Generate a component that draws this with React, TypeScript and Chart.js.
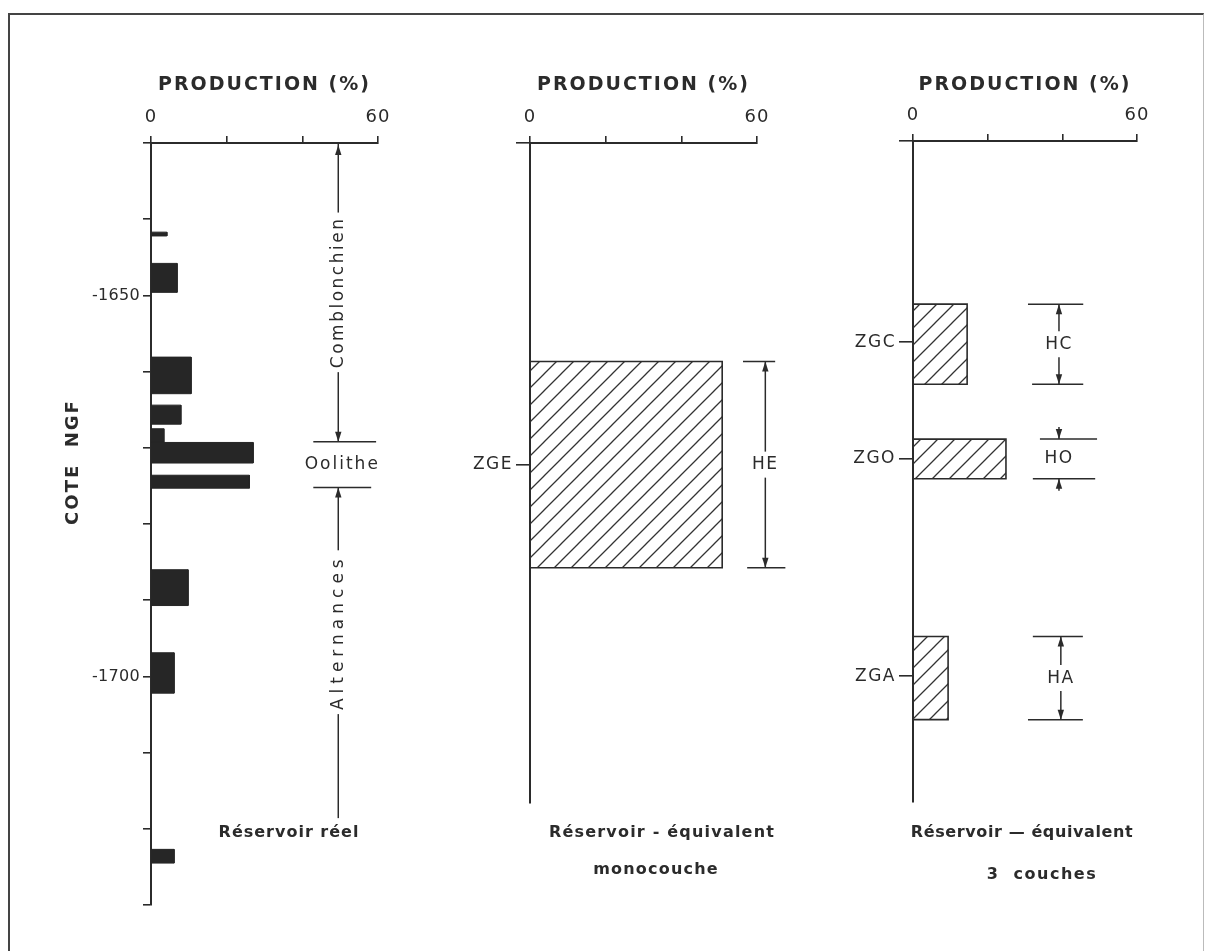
import React, { useEffect, useRef } from 'react';
import { Chart, registerables } from 'chart.js';

Chart.register(...registerables);

// ---------------- data ----------------
const prodMin = 0;
const prodMax = 60;
const prodStep = 20;
const prodLabels = [0, 60];

const depthTop = -1630;
const depthBottom = -1730;
const depthStep = 10;
const depthLabels = [-1650, -1700];
const equivalentDepthBottom = -1716.7;

// Panel 1 : réservoir réel (tops / bottoms in m NGF, production in %)
const realTop = [-1641.7, -1645.8, -1658.1, -1664.4, -1667.5, -1669.3, -1673.6, -1686.0, -1696.9, -1722.7];
const realBottom = [-1642.2, -1649.6, -1662.9, -1666.9, -1669.3, -1672.0, -1675.3, -1690.7, -1702.2, -1724.5];
const realProd = [4.2, 6.9, 10.6, 7.9, 3.4, 27.0, 26.0, 9.8, 6.1, 6.1];

const formationNames = ['Comblonchien', 'Oolithe', 'Alternances'];
const formationTop = [-1630, -1669.2, -1675.2];
const formationBottom = [-1669.2, -1675.2, -1718.6];
const formationLabelDepth = [-1649.6, -1672.2, -1694.2];

// Panel 2 : réservoir équivalent monocouche
const monoNames = ['ZGE'];
const monoCentre = [-1672.3];
const monoTop = [-1658.7];
const monoBottom = [-1685.8];
const monoProd = [50.8];
const monoThickness = ['HE'];

// Panel 3 : réservoir équivalent 3 couches
const layerNames = ['ZGC', 'ZGO', 'ZGA'];
const layerCentre = [-1656.4, -1671.7, -1700.2];
const layerTop = [-1651.4, -1669.1, -1695.0];
const layerBottom = [-1661.9, -1674.3, -1705.9];
const layerProd = [14.5, 24.9, 9.4];
const layerThickness = ['HC', 'HO', 'HA'];

// ---------------- layout / style ----------------
const W = 1210;
const H = 951;
const FONT = "'DejaVu Sans', sans-serif";
const INK = '#2b2b2b';
const Y_AXIS_W = 70;

const geom1 = { l: 151, t: 143, r: 378, b: 905, xh: 72 };
const geom2 = { l: 530, t: 143, r: 757, b: 803, xh: 72 };
const geom3 = { l: 913, t: 141, r: 1137, b: 802, xh: 70 };

function padFor(g: any) {
  return { left: g.l - Y_AXIS_W, top: g.t - g.xh, right: W - g.r, bottom: H - g.b };
}

function makeHatch(): any {
  const s = 17;
  const c = document.createElement('canvas');
  c.width = s;
  c.height = s;
  const g = c.getContext('2d')!;
  g.strokeStyle = '#333';
  g.lineWidth = 1.3;
  g.beginPath();
  g.moveTo(0, s);
  g.lineTo(s, 0);
  g.moveTo(-2, 2);
  g.lineTo(2, -2);
  g.moveTo(s - 2, s + 2);
  g.lineTo(s + 2, s - 2);
  g.stroke();
  return g.createPattern(c, 'repeat');
}

function rect(top: number, bottom: number, value: number) {
  return [
    { x: 0, y: top },
    { x: value, y: top },
    { x: value, y: bottom },
    { x: 0, y: bottom },
    { x: 0, y: top },
  ];
}

function setFont(ctx: any, size: number, weight: string, spacing: number) {
  ctx.font = `${weight} ${size}px ${FONT}`;
  ctx.letterSpacing = spacing + 'px';
}

function drawText(ctx: any, s: string, x: number, y: number, size: number, weight = 'normal', spacing = 1.5, rot = 0) {
  ctx.save();
  setFont(ctx, size, weight, spacing);
  ctx.textAlign = 'center';
  ctx.textBaseline = 'middle';
  ctx.fillStyle = INK;
  ctx.translate(x, y);
  if (rot) ctx.rotate(rot);
  ctx.fillText(s, 0, 0);
  ctx.restore();
}

function measure(ctx: any, s: string, size: number, weight = 'normal', spacing = 1.5) {
  ctx.save();
  setFont(ctx, size, weight, spacing);
  const w = ctx.measureText(s).width;
  ctx.restore();
  return w;
}

function line(ctx: any, x1: number, y1: number, x2: number, y2: number, lw = 1.5) {
  ctx.save();
  ctx.strokeStyle = INK;
  ctx.lineWidth = lw;
  ctx.beginPath();
  ctx.moveTo(x1, y1);
  ctx.lineTo(x2, y2);
  ctx.stroke();
  ctx.restore();
}

// dir = -1 : points up, dir = 1 : points down (tip at x,y)
function arrow(ctx: any, x: number, y: number, dir: number) {
  const len = 10;
  const hw = 3.2;
  ctx.save();
  ctx.fillStyle = INK;
  ctx.beginPath();
  ctx.moveTo(x, y);
  ctx.lineTo(x - hw, y - dir * len);
  ctx.lineTo(x + hw, y - dir * len);
  ctx.closePath();
  ctx.fill();
  ctx.restore();
}

function drawDimension(ctx: any, xs: any, ys: any, d: any) {
  const x = xs.getPixelForValue(d.x);
  const yT = ys.getPixelForValue(d.top);
  const yB = ys.getPixelForValue(d.bottom);
  line(ctx, xs.getPixelForValue(d.topSpan[0]), yT, xs.getPixelForValue(d.topSpan[1]), yT);
  line(ctx, xs.getPixelForValue(d.botSpan[0]), yB, xs.getPixelForValue(d.botSpan[1]), yB);
  const yc = (yT + yB) / 2;
  drawText(ctx, d.label, x, yc, 17, 'normal', 1.5);
  if (!d.outside) {
    line(ctx, x, yT, x, yc - 13);
    line(ctx, x, yc + 13, x, yB);
    arrow(ctx, x, yT, -1);
    arrow(ctx, x, yB, 1);
  } else {
    line(ctx, x, yT - 12, x, yT);
    arrow(ctx, x, yT, 1);
    line(ctx, x, yB, x, yB + 12);
    arrow(ctx, x, yB, -1);
  }
}

// give the library's own tick labels / axis title a letter spacing
function patchSpacing(s: any, labelPx: number, titlePx: number) {
  if (s.__spaced) return;
  s.__spaced = true;
  const dl = s.drawLabels.bind(s);
  const dt = s.drawTitle.bind(s);
  s.drawLabels = (area: any) => {
    const c = s.ctx;
    c.save();
    c.letterSpacing = labelPx + 'px';
    dl(area);
    c.restore();
  };
  s.drawTitle = () => {
    const c = s.ctx;
    c.save();
    c.letterSpacing = titlePx + 'px';
    dt();
    c.restore();
  };
}

function xScale(h: number) {
  return {
    type: 'linear',
    position: 'top',
    min: prodMin,
    max: prodMax,
    ticks: {
      stepSize: prodStep,
      autoSkip: false,
      maxRotation: 0,
      padding: 8,
      color: INK,
      font: { family: FONT, size: 18 },
      callback: (v: number) => (prodLabels.includes(v) ? String(v) : ''),
    },
    grid: { drawOnChartArea: false, drawTicks: true, tickLength: 7, color: INK, lineWidth: 1.6 },
    border: { display: true, color: INK, width: 2 },
    title: {
      display: true,
      text: 'PRODUCTION (%)',
      color: INK,
      font: { family: FONT, size: 19, weight: 'bold' },
      padding: { top: 3, bottom: 0 },
    },
    afterFit: (s: any) => {
      s.height = h;
      patchSpacing(s, 1, 2);
    },
  };
}

function zoneYScale(names: string[], centres: number[]) {
  const vals = [depthTop, ...centres];
  const labs = ['', ...names];
  return {
    type: 'linear',
    position: 'left',
    min: equivalentDepthBottom,
    max: depthTop,
    afterBuildTicks: (s: any) => {
      s.ticks = vals.map((v) => ({ value: v }));
    },
    ticks: {
      autoSkip: false,
      padding: 3,
      color: INK,
      font: { family: FONT, size: 17 },
      callback: (_v: number, i: number) => labs[i],
    },
    grid: { drawOnChartArea: false, drawTicks: true, tickLength: 14, color: INK, lineWidth: 1.6 },
    border: { display: true, color: INK, width: 2 },
    afterFit: (s: any) => {
      s.width = Y_AXIS_W;
      patchSpacing(s, 1.5, 0);
    },
  };
}

const common = {
  responsive: false,
  animation: false,
  events: [],
  plugins: { legend: { display: false }, tooltip: { enabled: false } },
};

function cfg1(): any {
  const datasets = realProd.map((v, i) => ({
    data: rect(realTop[i], realBottom[i], v),
    fill: 'shape',
    backgroundColor: '#262626',
    borderColor: '#262626',
    borderWidth: 1,
    pointRadius: 0,
    pointHoverRadius: 0,
    tension: 0,
  }));
  return {
    type: 'line',
    data: { datasets },
    options: {
      ...common,
      layout: { padding: padFor(geom1) },
      scales: {
        x: xScale(geom1.xh),
        y: {
          type: 'linear',
          position: 'left',
          min: depthBottom,
          max: depthTop,
          ticks: {
            stepSize: depthStep,
            autoSkip: false,
            padding: 3,
            color: INK,
            font: { family: FONT, size: 16 },
            callback: (v: number) => (depthLabels.includes(Math.round(v)) ? String(Math.round(v)) : ''),
          },
          grid: { drawOnChartArea: false, drawTicks: true, tickLength: 8, color: INK, lineWidth: 1.6 },
          border: { display: true, color: INK, width: 2 },
          afterFit: (s: any) => {
            s.width = Y_AXIS_W;
            patchSpacing(s, 0.3, 0);
          },
        },
      },
    },
    plugins: [
      {
        id: 'annot1',
        afterDraw(chart: any) {
          const { ctx, chartArea } = chart;
          const xs = chart.scales.x;
          const ys = chart.scales.y;
          // y axis title
          drawText(ctx, 'COTE  NGF', chartArea.left - 78, 462, 18, 'bold', 2, -Math.PI / 2);
          const ax = xs.getPixelForValue(49.5);
          // Comblonchien
          {
            const t = ys.getPixelForValue(formationTop[0]);
            const b = ys.getPixelForValue(formationBottom[0]);
            const c = ys.getPixelForValue(formationLabelDepth[0]);
            const w = measure(ctx, formationNames[0], 17, 'normal', 2.5);
            line(ctx, ax, t, ax, c - w / 2 - 4);
            line(ctx, ax, c + w / 2 + 4, ax, b);
            arrow(ctx, ax, t + 2, -1);
            arrow(ctx, ax, b, 1);
            drawText(ctx, formationNames[0], ax, c, 17, 'normal', 2.5, -Math.PI / 2);
          }
          // Oolithe boundaries
          const b1 = ys.getPixelForValue(formationTop[1]);
          const b2 = ys.getPixelForValue(formationBottom[1]);
          line(ctx, xs.getPixelForValue(42.9), b1, xs.getPixelForValue(59.5), b1);
          line(ctx, xs.getPixelForValue(42.9), b2, xs.getPixelForValue(58.2), b2);
          drawText(ctx, formationNames[1], ax + 4, ys.getPixelForValue(formationLabelDepth[1]), 17, 'normal', 2);
          // Alternances
          {
            const t = ys.getPixelForValue(formationTop[2]);
            const b = ys.getPixelForValue(formationBottom[2]);
            const c = ys.getPixelForValue(formationLabelDepth[2]);
            const w = measure(ctx, formationNames[2], 17, 'normal', 5);
            line(ctx, ax, t, ax, c - w / 2 - 4);
            line(ctx, ax, c + w / 2 + 4, ax, b);
            arrow(ctx, ax, t, -1);
            drawText(ctx, formationNames[2], ax, c, 17, 'normal', 5, -Math.PI / 2);
          }
          drawText(ctx, 'Réservoir réel', 289, 833, 16, 'bold', 1);
        },
      },
    ],
  };
}

function cfg2(hatch: any): any {
  const datasets = monoProd.map((v, i) => ({
    data: rect(monoTop[i], monoBottom[i], v),
    fill: 'shape',
    backgroundColor: hatch,
    borderColor: INK,
    borderWidth: 1.6,
    pointRadius: 0,
    pointHoverRadius: 0,
    tension: 0,
  }));
  return {
    type: 'line',
    data: { datasets },
    options: {
      ...common,
      layout: { padding: padFor(geom2) },
      scales: { x: xScale(geom2.xh), y: zoneYScale(monoNames, monoCentre) },
    },
    plugins: [
      {
        id: 'annot2',
        afterDraw(chart: any) {
          const { ctx } = chart;
          const xs = chart.scales.x;
          const ys = chart.scales.y;
          drawDimension(ctx, xs, ys, {
            label: monoThickness[0],
            top: monoTop[0],
            bottom: monoBottom[0],
            x: 62.2,
            topSpan: [56.3, 64.8],
            botSpan: [57.4, 67.5],
            outside: false,
          });
          drawText(ctx, 'Réservoir - équivalent', 662, 833, 16, 'bold', 1.2);
          drawText(ctx, 'monocouche', 656, 870, 16, 'bold', 1.2);
        },
      },
    ],
  };
}

function cfg3(hatch: any): any {
  const datasets = layerProd.map((v, i) => ({
    data: rect(layerTop[i], layerBottom[i], v),
    fill: 'shape',
    backgroundColor: hatch,
    borderColor: INK,
    borderWidth: 1.6,
    pointRadius: 0,
    pointHoverRadius: 0,
    tension: 0,
  }));
  const dimX = [39.1, 39.1, 39.6];
  const topSpans = [[30.8, 45.6], [34.0, 49.3], [32.1, 45.5]];
  const botSpans = [[31.9, 45.6], [32.1, 48.8], [30.8, 45.5]];
  const outside = [false, true, false];
  return {
    type: 'line',
    data: { datasets },
    options: {
      ...common,
      layout: { padding: padFor(geom3) },
      scales: { x: xScale(geom3.xh), y: zoneYScale(layerNames, layerCentre) },
    },
    plugins: [
      {
        id: 'annot3',
        afterDraw(chart: any) {
          const { ctx } = chart;
          const xs = chart.scales.x;
          const ys = chart.scales.y;
          layerThickness.forEach((lab, i) =>
            drawDimension(ctx, xs, ys, {
              label: lab,
              top: layerTop[i],
              bottom: layerBottom[i],
              x: dimX[i],
              topSpan: topSpans[i],
              botSpan: botSpans[i],
              outside: outside[i],
            })
          );
          drawText(ctx, 'Réservoir — équivalent', 1022, 833, 16, 'bold', 0.6);
          drawText(ctx, '3  couches', 1042, 875, 16, 'bold', 1.5);
        },
      },
    ],
  };
}

export default function App() {
  const r1 = useRef<HTMLCanvasElement>(null);
  const r2 = useRef<HTMLCanvasElement>(null);
  const r3 = useRef<HTMLCanvasElement>(null);

  useEffect(() => {
    const hatch = makeHatch();
    const charts = [
      new Chart(r1.current as any, cfg1()),
      new Chart(r2.current as any, cfg2(hatch)),
      new Chart(r3.current as any, cfg3(hatch)),
    ];
    return () => charts.forEach((c) => c.destroy());
  }, []);

  const cs: any = { position: 'absolute', left: 0, top: 0, width: W, height: H };
  return (
    <div style={{ position: 'absolute', left: 0, top: 0, width: W, height: H, background: '#fff', overflow: 'hidden' }}>
      <div
        style={{
          position: 'absolute',
          left: 8,
          top: 13,
          width: 1193,
          height: 1000,
          borderTop: '2px solid #444',
          borderLeft: '2px solid #444',
          borderRight: '1px solid #bbb',
        }}
      />
      <canvas ref={r1} width={W} height={H} style={cs} />
      <canvas ref={r2} width={W} height={H} style={cs} />
      <canvas ref={r3} width={W} height={H} style={cs} />
    </div>
  );
}
